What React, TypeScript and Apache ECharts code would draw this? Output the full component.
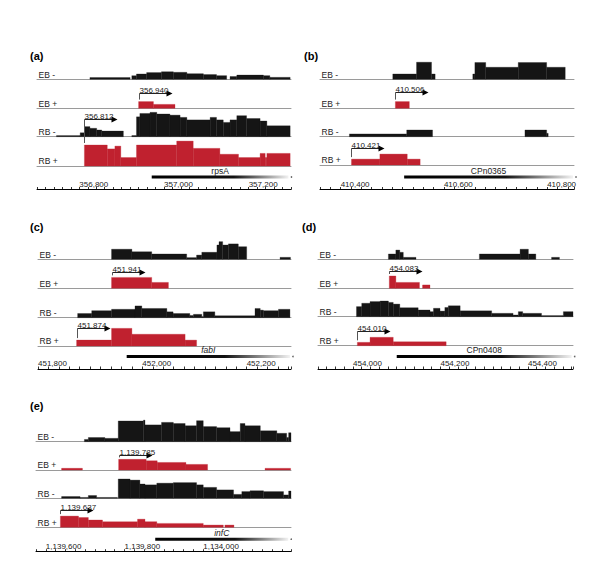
import React, { useEffect, useRef } from 'react';
import * as echarts from 'echarts';

type Seg = [number, number, number];

// ---------- labels ----------
const trackNames = ['EB -', 'EB +', 'RB -', 'RB +'];
const panelTags = ['(a)', '(b)', '(c)', '(d)', '(e)'];

// ---------- panel (a) rpsA ----------
const aTickValues = [356800, 357000, 357200];
const aTickLabels = ['356,800', '357,000', '357,200'];
const aEBminus: Seg[] = [[356825,356920,6],[356924,356935,13],[356935,356959,19],[356959,356994,24],[356994,357022,27],[357022,357054,25],[357054,357093,20],[357093,357124,17],[357124,357148,13],[357156,357172,10],[357172,357235,15],[357235,357250,13],[357250,357298,7]];
const aEBplus: Seg[] = [[356940,356975,24],[356975,357026,14]];
const aRBminus: Seg[] = [[356746,356802,4],[356802,356813,14],[356813,356825,36],[356825,356841,30],[356841,356853,24],[356853,356904,20],[356924,356935,4],[356935,356943,71],[356943,356967,83],[356967,356983,87],[356983,357014,81],[357014,357038,77],[357038,357054,69],[357054,357109,60],[357109,357124,69],[357124,357140,60],[357140,357156,51],[357156,357172,60],[357172,357195,75],[357195,357227,65],[357227,357243,56],[357243,357298,39]];
const aRBplus: Seg[] = [[356812,356866,75],[356866,356884,61],[356884,356898,71],[356898,356935,30],[356935,357030,75],[357030,357069,89],[357069,357132,63],[357132,357176,42],[357176,357227,30],[357227,357239,45],[357239,357243,30],[357243,357298,45]];
const aGene = { name: 'rpsA', start: 356971, end: 357294, italic: false };
const aTSS = [{ track: 1, bp: 356940, label: '356,940' }, { track: 3, bp: 356812, label: '356,812' }];

// ---------- panel (b) CPn0365 ----------
const bTickValues = [410400, 410600, 410800];
const bTickLabels = ['410,400', '410,600', '410,800'];
const bEBminus: Seg[] = [[410501,410547,19],[410547,410576,61],[410576,410583,19],[410656,410660,19],[410660,410681,60],[410681,410744,43],[410744,410799,60],[410799,410835,43]];
const bEBplus: Seg[] = [[410506,410533,24]];
const bRBminus: Seg[] = [[410417,410528,10],[410528,410578,24],[410757,410799,24],[410799,410802,12]];
const bRBplus: Seg[] = [[410421,410476,21],[410476,410529,39],[410529,410554,21]];
const bGene = { name: 'CPn0365', start: 410523, end: 410850, italic: false };
const bTSS = [{ track: 1, bp: 410506, label: '410,506' }, { track: 3, bp: 410421, label: '410,421' }];

// ---------- panel (c) fabI ----------
const cTickValues = [451800, 452000, 452200];
const cTickLabels = ['451,800', '452,000', '452,200'];
const cEBminus: Seg[] = [[451941,451980,36],[451980,452018,27],[452018,452085,19],[452085,452104,6],[452104,452114,15],[452114,452143,25],[452143,452147,51],[452147,452154,63],[452154,452165,51],[452165,452184,55],[452184,452200,45],[452264,452284,7]];
const cEBplus: Seg[] = [[451941,452018,39],[452018,452050,21]];
const cRBminus: Seg[] = [[451876,451903,15],[451903,451941,25],[451941,451986,30],[451986,451999,42],[451999,452047,33],[452047,452059,21],[452059,452091,15],[452091,452098,8],[452098,452114,12],[452114,452117,4],[452117,452139,21],[452139,452216,7],[452216,452226,33],[452226,452232,27],[452232,452261,25],[452261,452283,30]];
const cRBplus: Seg[] = [[451874,451941,21],[451941,451980,63],[451980,452082,42],[452082,452104,21]];
const cGene = { name: 'fabI', start: 451970, end: 452283, italic: true };
const cTSS = [{ track: 1, bp: 451941, label: '451,941' }, { track: 3, bp: 451874, label: '451,874' }];

// ---------- panel (d) CPn0408 ----------
const dTickValues = [454000, 454200, 454400];
const dTickLabels = ['454,000', '454,200', '454,400'];
const dEBminus: Seg[] = [[454081,454098,19],[454098,454107,33],[454107,454115,25],[454115,454144,7],[454289,454382,19],[454382,454401,36],[454401,454418,19],[454454,454472,7]];
const dEBplus: Seg[] = [[454083,454098,44],[454098,454152,21],[454159,454176,12]];
const dRBminus: Seg[] = [[454008,454020,36],[454020,454039,48],[454039,454062,54],[454062,454081,56],[454081,454092,51],[454092,454107,45],[454107,454149,32],[454149,454176,24],[454176,454184,18],[454184,454199,30],[454199,454210,20],[454210,454218,33],[454218,454245,39],[454245,454317,21],[454317,454366,12],[454366,454378,6],[454378,454388,18],[454388,454431,12],[454431,454481,4],[454481,454503,18]];
const dRBplus: Seg[] = [[454010,454039,12],[454039,454092,30],[454092,454213,14]];
const dGene = { name: 'CPn0408', start: 454100, end: 454500, italic: false };
const dTSS = [{ track: 1, bp: 454083, label: '454,083' }, { track: 3, bp: 454010, label: '454,010' }];

// ---------- panel (e) infC ----------
const eTickValues = [1139600, 1139800, 1140000];
const eTickLabels = ['1,139,600', '1,139,800', '1,134,000'];
const eEBminus: Seg[] = [[1139698,1139708,8],[1139708,1139750,15],[1139750,1139784,12],[1139784,1139848,74],[1139848,1139852,77],[1139852,1139894,60],[1139894,1139924,69],[1139924,1139954,65],[1139954,1139983,57],[1139983,1140000,75],[1140000,1140034,54],[1140034,1140068,50],[1140068,1140094,36],[1140094,1140106,65],[1140106,1140145,57],[1140145,1140187,39],[1140187,1140212,30],[1140212,1140217,15],[1140217,1140223,32]];
const eEBplus: Seg[] = [[1139640,1139693,6],[1139785,1139855,38],[1139855,1139883,33],[1139883,1139956,27],[1139956,1140011,20],[1140157,1140222,6]];
const eRBminus: Seg[] = [[1139640,1139687,6],[1139687,1139708,3],[1139708,1139729,10],[1139729,1139782,3],[1139784,1139814,69],[1139814,1139839,65],[1139839,1139852,51],[1139852,1139882,48],[1139882,1139924,54],[1139924,1139983,56],[1139983,1140000,48],[1140000,1140034,39],[1140034,1140077,30],[1140077,1140098,14],[1140098,1140119,24],[1140119,1140153,27],[1140153,1140204,24],[1140204,1140217,12],[1140217,1140223,26]];
const eRBplus: Seg[] = [[1139637,1139683,40],[1139683,1139708,35],[1139708,1139744,26],[1139744,1139833,20],[1139833,1139852,29],[1139852,1139882,20],[1139882,1140000,14],[1140000,1140051,8],[1140055,1140078,8]];
const eGene = { name: 'infC', start: 1139878, end: 1140216, italic: true };
const eTSS = [{ track: 1, bp: 1139785, label: '1,139,785' }, { track: 3, bp: 1139637, label: '1,139,637' }];

// ---------- layout (pixels) ----------
const TRACK_H = 28;
const AXIS_H = 24;
const FONT = '"Liberation Sans", Arial, Helvetica, sans-serif';
const BLACK = '#151515';
const RED = '#c0212f';

const layouts = [
  { left: 37, width: 254, baselines: [79.3, 108.3, 136.7, 166], axisY: 189.5, min: 356700, max: 357300, step: 20, tagX: 30, tagY: 56, rises: [15, 46.7] },
  { left: 320, width: 254, baselines: [79.3, 108.3, 136.7, 165], axisY: 189.5, min: 410360, max: 410852, step: 20, tagX: 304, tagY: 56, rises: [16.6, 16.7] },
  { left: 38, width: 253, baselines: [259.3, 288.3, 317.7, 346], axisY: 369, min: 451800, max: 452285, step: 20, tagX: 30, tagY: 227, rises: [16.6, 17.7] },
  { left: 318, width: 255, baselines: [259.3, 288.3, 316.7, 345.7], axisY: 369, min: 453920, max: 454503, step: 20, tagX: 302, tagY: 227, rises: [17.3, 15] },
  { left: 36, width: 255, baselines: [441.7, 470, 498.3, 527.3], axisY: 551.7, min: 1139575, max: 1140223, step: 25, tagX: 30, tagY: 406, rises: [15, 17.3] },
];

const panels = [
  { tracks: [aEBminus, aEBplus, aRBminus, aRBplus], tickValues: aTickValues, tickLabels: aTickLabels, gene: aGene, tss: aTSS },
  { tracks: [bEBminus, bEBplus, bRBminus, bRBplus], tickValues: bTickValues, tickLabels: bTickLabels, gene: bGene, tss: bTSS },
  { tracks: [cEBminus, cEBplus, cRBminus, cRBplus], tickValues: cTickValues, tickLabels: cTickLabels, gene: cGene, tss: cTSS },
  { tracks: [dEBminus, dEBplus, dRBminus, dRBplus], tickValues: dTickValues, tickLabels: dTickLabels, gene: dGene, tss: dTSS },
  { tracks: [eEBminus, eEBplus, eRBminus, eRBplus], tickValues: eTickValues, tickLabels: eTickLabels, gene: eGene, tss: eTSS },
];

function coverageAt(segs: Seg[], bp: number): number {
  for (const s of segs) if (bp >= s[0] && bp < s[1]) return s[2];
  return 0;
}

function buildOption() {
  const grid: any[] = [];
  const xAxis: any[] = [];
  const yAxis: any[] = [];
  const series: any[] = [];
  const graphic: any[] = [];

  panels.forEach((panel, pi) => {
    const L = layouts[pi];
    panel.tracks.forEach((segs, ti) => {
      const gi = grid.length;
      const base = L.baselines[ti];
      grid.push({ left: L.left, top: base - TRACK_H, width: L.width, height: TRACK_H });
      xAxis.push({
        type: 'value', gridIndex: gi, min: L.min, max: L.max,
        axisLine: { show: true, onZero: false, lineStyle: { color: '#9a9a9a', width: 1 } },
        axisTick: { show: false }, axisLabel: { show: false }, splitLine: { show: false },
      });
      yAxis.push({ type: 'value', gridIndex: gi, min: 0, max: 100, show: false });
      const color = ti % 2 === 1 ? RED : BLACK;
      series.push({
        type: 'custom', xAxisIndex: gi, yAxisIndex: gi, clip: false,
        data: segs, encode: { x: [0, 1], y: 2 },
        renderItem: (_p: any, api: any) => {
          const p0 = api.coord([api.value(0), api.value(2)]);
          const p1 = api.coord([api.value(1), 0]);
          return {
            type: 'rect',
            shape: { x: p0[0], y: p0[1], width: p1[0] - p0[0], height: p1[1] - p0[1] },
            style: { fill: color, stroke: color, lineWidth: 0.3 },
          };
        },
      });
      graphic.push({
        type: 'text', x: L.left + 1.5, y: base - 0.3,
        style: { text: trackNames[ti], font: `8.5px ${FONT}`, fill: '#222', align: 'left', verticalAlign: 'bottom' },
      });
      // TSS arrows for this track
      panel.tss.filter((t) => t.track === ti).forEach((t) => {
        const rise = L.rises[ti === 1 ? 0 : 1];
        series.push({
          type: 'custom', xAxisIndex: gi, yAxisIndex: gi, clip: false, z: 5,
          data: [[t.bp, coverageAt(segs, t.bp)]], encode: { x: 0, y: 1 },
          renderItem: (_p: any, api: any) => {
            const b = api.coord([api.value(0), 0]);
            const top = api.coord([api.value(0), api.value(1)]);
            const x = Math.round(b[0]) + 0.5;
            const yLine = Math.round(b[1] - rise) + 0.5;
            const yBot = top[1] - 2;
            return {
              type: 'group',
              children: [
                { type: 'line', shape: { x1: x, y1: yBot, x2: x, y2: yLine }, style: { stroke: '#555', lineWidth: 1 } },
                { type: 'line', shape: { x1: x, y1: yLine, x2: x + 28, y2: yLine }, style: { stroke: '#222', lineWidth: 1 } },
                { type: 'polygon', shape: { points: [[x + 27, yLine - 3], [x + 33, yLine], [x + 27, yLine + 3]] }, style: { fill: '#000' } },
                { type: 'text', x: x, y: yLine + 1, style: { text: t.label, font: `8px ${FONT}`, fill: '#222', align: 'left', verticalAlign: 'bottom' } },
              ],
            };
          },
        });
      });
    });

    // coordinate axis + gene
    const gi = grid.length;
    grid.push({ left: L.left, top: L.axisY - AXIS_H, width: L.width, height: AXIS_H });
    const labelMap: Record<number, string> = {};
    panel.tickValues.forEach((v, i) => { labelMap[v] = panel.tickLabels[i]; });
    xAxis.push({
      type: 'value', gridIndex: gi, min: L.min, max: L.max, interval: L.step,
      axisLine: { show: true, onZero: false, lineStyle: { color: '#000', width: 1 } },
      axisTick: { show: true, inside: true, length: 2.5, lineStyle: { color: '#000', width: 0.8 } },
      axisLabel: {
        show: true, inside: true, margin: 1.5, fontSize: 8, color: '#222', fontFamily: FONT,
        align: 'left', showMinLabel: true, showMaxLabel: true,
        formatter: (v: number) => labelMap[v] || '',
      },
      splitLine: { show: false },
    });
    yAxis.push({ type: 'value', gridIndex: gi, min: 0, max: AXIS_H, show: false });
    const g = panel.gene;
    series.push({
      type: 'custom', xAxisIndex: gi, yAxisIndex: gi, clip: false,
      data: [[g.start, g.end]], encode: { x: [0, 1] },
      renderItem: (_p: any, api: any) => {
        const p0 = api.coord([api.value(0), 12.5]);
        const p1 = api.coord([api.value(1), 12.5]);
        return {
          type: 'group',
          children: [
            {
              type: 'rect', shape: { x: p0[0], y: p0[1] - 1.5, width: p1[0] - p0[0], height: 3 },
              style: {
                fill: { type: 'linear', x: 0, y: 0, x2: 1, y2: 0, colorStops: [
                  { offset: 0, color: '#000' }, { offset: 0.6, color: '#111' }, { offset: 1, color: '#f2f2f2' },
                ] },
              },
            },
            { type: 'circle', shape: { cx: p1[0] + 3, cy: p0[1], r: 0.8 }, style: { fill: '#666' } },
            {
              type: 'text', x: (p0[0] + p1[0]) / 2, y: p0[1] - 6.5,
              style: { text: g.name, font: `${g.italic ? 'italic ' : ''}8.5px ${FONT}`, fill: '#222', align: 'center', verticalAlign: 'middle' },
            },
          ],
        };
      },
    });

    graphic.push({
      type: 'text', x: L.tagX, y: L.tagY,
      style: { text: panelTags[pi], font: `bold 11px ${FONT}`, fill: '#000', align: 'left', verticalAlign: 'middle' },
    });
  });

  return { animation: false, backgroundColor: '#fff', grid, xAxis, yAxis, series, graphic };
}

export default function App() {
  const ref = useRef<HTMLDivElement>(null);
  useEffect(() => {
    if (!ref.current) return;
    const chart = echarts.init(ref.current, undefined, { renderer: 'svg' });
    chart.setOption(buildOption() as any);
    return () => chart.dispose();
  }, []);
  return <div ref={ref} style={{ position: 'absolute', left: 0, top: 0, width: 600, height: 578 }} />;
}
